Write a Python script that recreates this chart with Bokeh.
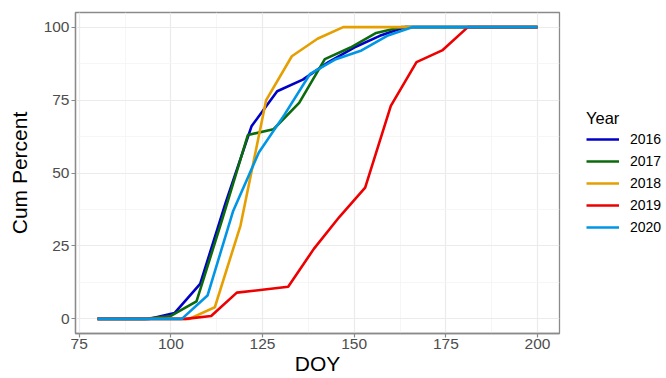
from bokeh.plotting import figure
from bokeh.models import Legend, LegendItem, FixedTicker, Range1d
from bokeh.layouts import row
from bokeh.embed import file_html
from bokeh.resources import INLINE

years = ["2016", "2017", "2018", "2019", "2020"]
colors = ["#0000C8", "#0B6B0B", "#E69F00", "#EE0000", "#0096E6"]

doy_2016 = [80, 94, 101, 108, 115, 122, 129, 136, 143, 150, 157, 164, 200]
cum_2016 = [0, 0, 2, 12, 40, 66, 78, 82, 88, 93, 97, 100, 100]

doy_2017 = [80, 93, 100, 107, 114, 121, 128, 135, 142, 149, 156, 163, 200]
cum_2017 = [0, 0, 1, 6, 34, 63, 65, 74, 89, 93, 98, 100, 100]

doy_2018 = [80, 98, 105, 112, 119, 126, 133, 140, 147, 200]
cum_2018 = [0, 0, 0, 4, 32, 75, 90, 96, 100, 100]

doy_2019 = [80, 97, 104, 111, 118, 125, 132, 139, 146, 153, 160, 167, 174, 181, 200]
cum_2019 = [0, 0, 0, 1, 9, 10, 11, 24, 35, 45, 73, 88, 92, 100, 100]

doy_2020 = [80, 96, 103, 110, 117, 124, 131, 138, 145, 152, 159, 166, 200]
cum_2020 = [0, 0, 0, 8, 37, 57, 70, 84, 89, 92, 97, 100, 100]

series_x = [doy_2016, doy_2017, doy_2018, doy_2019, doy_2020]
series_y = [cum_2016, cum_2017, cum_2018, cum_2019, cum_2020]

x_ticks = [75, 100, 125, 150, 175, 200]
y_ticks = [0, 25, 50, 75, 100]

FONT = "Liberation Sans"

p = figure(width=561, height=378, output_backend="svg", toolbar_location=None,
           x_range=Range1d(74, 206), y_range=Range1d(-5, 105),
           min_border_left=75, min_border_right=2, min_border_top=12,
           min_border_bottom=45)
p.background_fill_color = "white"
p.border_fill_color = "white"
p.outline_line_color = "#8A8A8A"
p.outline_line_width = 1.3

for ax, ticks in ((p.xaxis[0], x_ticks), (p.yaxis[0], y_ticks)):
    minors = [(a + b) / 2 for a, b in zip(ticks[:-1], ticks[1:])]
    ax.ticker = FixedTicker(ticks=ticks, minor_ticks=minors)
    ax.axis_line_color = "#8A8A8A"
    ax.axis_line_width = 1.3
    ax.major_tick_line_color = "#8A8A8A"
    ax.major_tick_line_width = 1.2
    ax.major_tick_out = 4
    ax.major_tick_in = 0
    ax.minor_tick_line_color = None
    ax.major_label_text_font = FONT
    ax.major_label_text_font_size = "15.5px"
    ax.major_label_text_color = "#4D4D4D"
    ax.axis_label_text_font = FONT
    ax.axis_label_text_font_size = "21px"
    ax.axis_label_text_font_style = "normal"
    ax.axis_label_text_color = "black"

p.xaxis.axis_label = "DOY"
p.yaxis.axis_label = "Cum Percent"
p.xaxis.axis_label_standoff = 0
p.yaxis.axis_label_standoff = 10
p.xaxis.major_label_standoff = 1
p.yaxis.major_label_standoff = 2

for g in (p.xgrid[0], p.ygrid[0]):
    g.grid_line_color = "#EBEBEB"
    g.grid_line_width = 1.2
    g.minor_grid_line_color = "#F4F4F4"
    g.minor_grid_line_width = 0.8
p.xgrid.ticker = FixedTicker(ticks=x_ticks, minor_ticks=[87.5, 112.5, 137.5, 162.5, 187.5])
p.ygrid.ticker = FixedTicker(ticks=y_ticks, minor_ticks=[12.5, 37.5, 62.5, 87.5])

for yr, col, xs, ys in zip(years, colors, series_x, series_y):
    p.line(xs, ys, line_color=col, line_width=2.6)

# legend panel: a separate, axis-free figure whose ranges keep the series
# lines out of view, so only the legend keys remain visible
pl = figure(width=105, height=378, output_backend="svg", toolbar_location=None,
            x_axis_type=None, y_axis_type=None,
            x_range=Range1d(0, 1), y_range=Range1d(0, 1),
            min_border=0)
pl.outline_line_color = None
pl.grid.visible = False
pl.background_fill_color = "white"
pl.border_fill_color = "white"

items = []
for yr, col, xs, ys in zip(years, colors, series_x, series_y):
    r = pl.line(xs, ys, line_color=col, line_width=2.6)
    items.append(LegendItem(label=yr, renderers=[r]))

legend = Legend(items=items, location=(25, 95), title="Year",
                title_text_font=FONT, title_text_font_size="16.5px",
                title_text_font_style="normal",
                title_text_color="black", title_standoff=0,
                label_text_font=FONT, label_text_font_size="14px",
                label_text_color="black", glyph_width=33, glyph_height=22,
                label_height=22, label_standoff=11, spacing=0, padding=0, margin=0,
                border_line_color=None, background_fill_alpha=0)
pl.add_layout(legend, "center")

layout = row(p, pl)
open("out.html", "w").write(file_html(layout, INLINE))
